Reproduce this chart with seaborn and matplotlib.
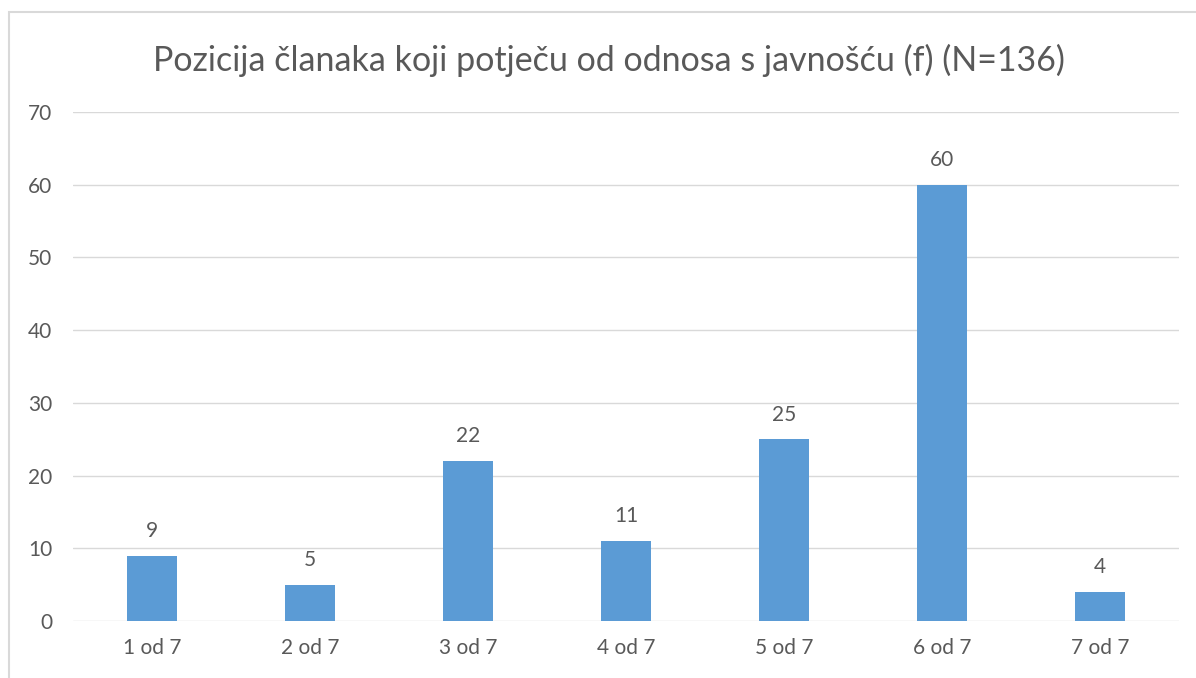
import matplotlib
matplotlib.use("Agg")
import matplotlib.pyplot as plt
import seaborn as sns
import pandas as pd

categories = ["1 od 7", "2 od 7", "3 od 7", "4 od 7", "5 od 7", "6 od 7", "7 od 7"]
counts = [9, 5, 22, 11, 25, 60, 4]
title = "Pozicija članaka koji potječu od odnosa s javnošću (f) (N=136)"

sns.set_theme(style="white")
plt.rcParams["font.family"] = ["Lato", "DejaVu Sans"]

text_color = "#595959"
bar_color = "#5B9BD5"
grid_color = "#D9D9D9"

df = pd.DataFrame({"pozicija": categories, "f": counts})

fig = plt.figure(figsize=(11.96, 6.78), dpi=100)
# outer chart frame
fig.patches.append(plt.Rectangle((9 / 1196, -0.1), 1.2, 1 - 12 / 678 + 0.1,
                                 transform=fig.transFigure, fill=False,
                                 edgecolor="#D9D9D9", linewidth=1.5))
ax = fig.add_axes([73 / 1196, 1 - 621 / 678, (1179 - 73) / 1196, (621 - 112) / 678])

sns.barplot(data=df, x="pozicija", y="f", color=bar_color, width=0.32,
            saturation=1, linewidth=0, ax=ax, zorder=3)

for i, v in enumerate(counts):
    ax.text(i, v + 2.0, str(v), ha="center", va="bottom", fontsize=15, color=text_color)

ax.set_ylim(0, 70)
ax.set_yticks(range(0, 71, 10))
ax.set_xlim(-0.5, len(categories) - 0.5)
ax.yaxis.grid(True, color=grid_color, linewidth=1, zorder=0)
ax.set_axisbelow(True)
for s in ax.spines.values():
    s.set_visible(False)
ax.tick_params(axis="both", length=0, labelsize=15, labelcolor=text_color)
ax.tick_params(axis="x", pad=12)
ax.tick_params(axis="y", pad=15)
ax.set_xlabel("")
ax.set_ylabel("")

fig.text(609 / 1196, 1 - 60 / 678, title, ha="center", va="center",
         fontsize=24.5, color=text_color)

fig.savefig("out.png", dpi=100)
